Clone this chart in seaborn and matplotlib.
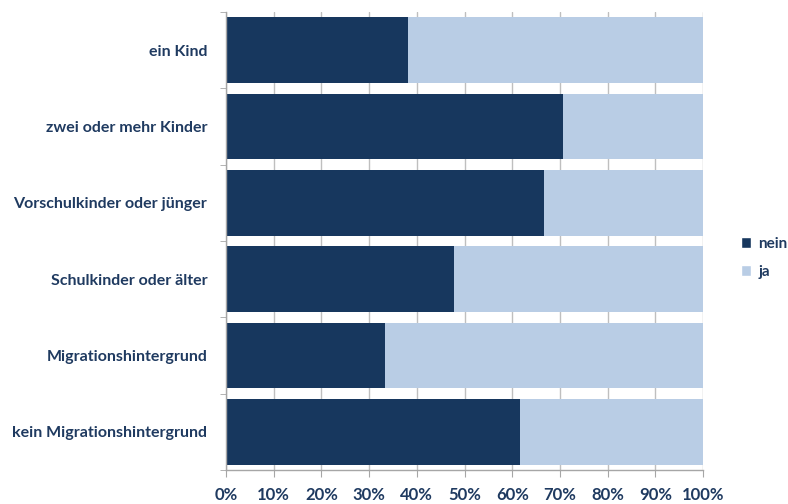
import matplotlib
matplotlib.use("Agg")
import matplotlib.pyplot as plt
import seaborn as sns
import pandas as pd
import numpy as np
from matplotlib.patches import Patch
from matplotlib.ticker import FixedLocator, PercentFormatter

categories = ["ein Kind", "zwei oder mehr Kinder", "Vorschulkinder oder jünger",
              "Schulkinder oder älter", "Migrationshintergrund", "kein Migrationshintergrund"]
nein = [38.2, 70.6, 66.7, 47.8, 33.3, 61.6]
ja = [100 - v for v in nein]
series = ["nein", "ja"]
xticks = list(range(0, 101, 10))

c_nein = "#17375E"
c_ja = "#B9CDE5"
text_c = "#1F3A60"

sns.set_style("white")
plt.rcParams['font.family'] = ['Lato', 'DejaVu Sans']

df = pd.DataFrame({"cat": categories, "nein": nein, "total": [n + j for n, j in zip(nein, ja)]})

fig = plt.figure(figsize=(7.88, 5.04), dpi=100)
ax = fig.add_axes([226/788, 1 - 470/504, (703 - 226)/788, (470 - 12)/504])

ax.set_axisbelow(True)
ax.xaxis.grid(True, color="#BFBFBF", linewidth=1)
sns.barplot(data=df, x="total", y="cat", color=c_ja, orient="h", width=0.86,
            saturation=1, ax=ax, edgecolor="none")
sns.barplot(data=df, x="nein", y="cat", color=c_nein, orient="h", width=0.86,
            saturation=1, ax=ax, edgecolor="none")

ax.set_xlim(0, 100)
ax.set_ylim(len(categories) - 0.5, -0.5)
ax.set_xlabel("")
ax.set_ylabel("")
ax.xaxis.set_major_locator(FixedLocator(xticks))
ax.xaxis.set_major_formatter(PercentFormatter(decimals=0))
ax.yaxis.set_minor_locator(FixedLocator(np.arange(-0.5, len(categories), 1)))

for s in ["top", "right"]:
    ax.spines[s].set_visible(False)
for s in ["left", "bottom"]:
    ax.spines[s].set_color("#A6A6A6")
    ax.spines[s].set_linewidth(1)

ax.tick_params(axis="x", which="major", bottom=True, direction="out", length=5,
               color="#A6A6A6", labelsize=12, labelcolor=text_c, pad=7)
ax.tick_params(axis="y", which="major", left=False, labelsize=11.5, labelcolor=text_c, pad=10)
ax.tick_params(axis="y", which="minor", left=True, direction="out", length=4, color="#A6A6A6")
for lab in ax.get_xticklabels() + ax.get_yticklabels():
    lab.set_fontweight("bold")

handles = [Patch(facecolor=c_nein, label="nein"), Patch(facecolor=c_ja, label="ja")]
leg = fig.legend(handles=handles, loc="center left", bbox_to_anchor=(733/788, 1 - 258/504),
                 frameon=False, handlelength=0.7, handleheight=0.7, handletextpad=0.45,
                 labelspacing=0.9, borderpad=0, prop={"weight": "bold", "size": 11})
for t in leg.get_texts():
    t.set_color(text_c)

fig.savefig("out.png", dpi=100)
